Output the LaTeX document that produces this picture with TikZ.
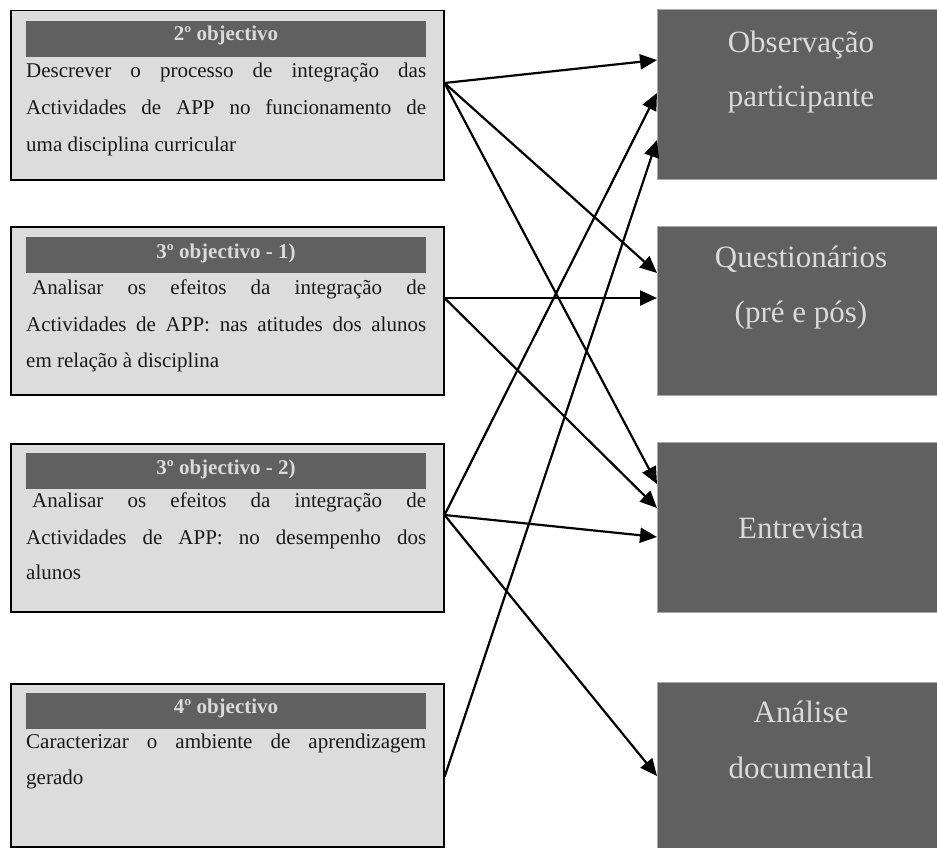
\documentclass[tikz,border=0pt]{standalone}
\usepackage{fontspec}
\setmainfont{Liberation Serif}
\usetikzlibrary{arrows.meta,calc}
\definecolor{hdr}{HTML}{606060}
\definecolor{lbox}{HTML}{DCDCDC}
\definecolor{ltxt}{HTML}{DADADA}
\definecolor{mborder}{HTML}{A8A8A8}
\begin{document}
\begin{tikzpicture}[x=1pt,y=-1pt,
  objbox/.style={draw=black, line width=1.5pt, fill=lbox, rectangle, inner sep=0pt, anchor=north west, minimum width=433pt},
  hdrbar/.style={fill=hdr, rectangle, inner sep=0pt, anchor=north west, minimum width=400pt, minimum height=36pt},
  hdrtxt/.style={inner sep=0pt, anchor=base, text=ltxt, font=\fontsize{21}{25}\selectfont\bfseries},
  bodyline/.style={inner sep=0pt, anchor=base west, text=black!90, font=\fontsize{21}{25}\selectfont},
  methbox/.style={fill=hdr, draw=mborder, line width=0.8pt, rectangle, inner sep=0pt, anchor=north west, minimum width=281pt},
  methtxt/.style={inner sep=0pt, anchor=base, text=ltxt, font=\fontsize{31}{37}\selectfont},
  link/.style={-{Triangle[length=17pt,width=15pt]}, line width=2.2pt, black}
]
\useasboundingbox (0,0) rectangle (937,848);

% ---- left boxes ----
\node[objbox, minimum height=169pt] (o1) at (10,10) {};
\node[hdrbar] (h1) at (26,21) {};
\node[hdrtxt] (h1t) at (226,41) {2º objectivo};
\node[bodyline] (o1a) at (26,78) {\makebox[400pt][s]{Descrever o processo de integração das}};
\node[bodyline] (o1b) at (26,115) {\makebox[400pt][s]{Actividades de APP no funcionamento de}};
\node[bodyline] (o1c) at (26,151) {uma disciplina curricular};

\node[objbox, minimum height=168pt] (o2) at (10,226) {};
\node[hdrbar] (h2) at (26,237) {};
\node[hdrtxt] (h2t) at (226,258) {3º objectivo - 1)};
\node[bodyline] (o2a) at (26,294) {\makebox[400pt][s]{\hspace{6pt}Analisar os efeitos da integração de}};
\node[bodyline] (o2b) at (26,331) {\makebox[400pt][s]{Actividades de APP: nas atitudes dos alunos}};
\node[bodyline] (o2c) at (26,367) {em relação à disciplina};

\node[objbox, minimum height=168pt] (o3) at (10,443) {};
\node[hdrbar] (h3) at (26,453) {};
\node[hdrtxt] (h3t) at (226,474) {3º objectivo - 2)};
\node[bodyline] (o3a) at (26,507) {\makebox[400pt][s]{\hspace{6pt}Analisar os efeitos da integração de}};
\node[bodyline] (o3b) at (26,544) {\makebox[400pt][s]{Actividades de APP: no desempenho dos}};
\node[bodyline] (o3c) at (26,579) {alunos};

\node[objbox, minimum height=163pt] (o4) at (10,683) {};
\node[hdrbar] (h4) at (26,693) {};
\node[hdrtxt] (h4t) at (226,713) {4º objectivo};
\node[bodyline] (o4a) at (26,748) {\makebox[400pt][s]{Caracterizar o ambiente de aprendizagem}};
\node[bodyline] (o4b) at (26,784) {gerado};

% ---- right boxes ----
\node[methbox, minimum height=170pt] (mA) at (657,9) {};
\node[methtxt] (mA1) at (801,53) {Observação};
\node[methtxt] (mA2) at (801,107) {participante};

\node[methbox, minimum height=169pt] (mB) at (657,226) {};
\node[methtxt] (mB1) at (801,267) {Questionários};
\node[methtxt] (mB2) at (801,322) {(pré e pós)};

\node[methbox, minimum height=170pt] (mC) at (657,442) {};
\node[methtxt] (mC1) at (801,538) {Entrevista};

\node[methbox, minimum height=170pt] (mD) at (657,682) {};
\node[methtxt] (mD1) at (801,722) {Análise};
\node[methtxt] (mD2) at (801,778) {documental};

% ---- connectors ----
\draw[link] ($(o1.north east)+(0,73)$) -- ($(mA.north west)+(0,51)$);
\draw[link] ($(o1.north east)+(0,73)$) -- ($(mB.north west)+(0,47)$);
\draw[link] ($(o1.north east)+(0,73)$) -- ($(mC.north west)+(0,42)$);

\draw[link] ($(o2.north east)+(0,72)$) -- ($(mB.north west)+(0,72)$);
\draw[link] ($(o2.north east)+(0,72)$) -- ($(mC.north west)+(0,66)$);

\draw[link] ($(o3.north east)+(0,72)$) -- ($(mA.north west)+(0,84)$);
\draw[link] ($(o3.north east)+(0,72)$) -- ($(mC.north west)+(0,95)$);
\draw[link] ($(o3.north east)+(0,72)$) -- ($(mD.north west)+(0,94)$);

\draw[link] ($(o4.north east)+(0,94)$) -- ($(mA.north west)+(0,131)$);
\end{tikzpicture}
\end{document}
